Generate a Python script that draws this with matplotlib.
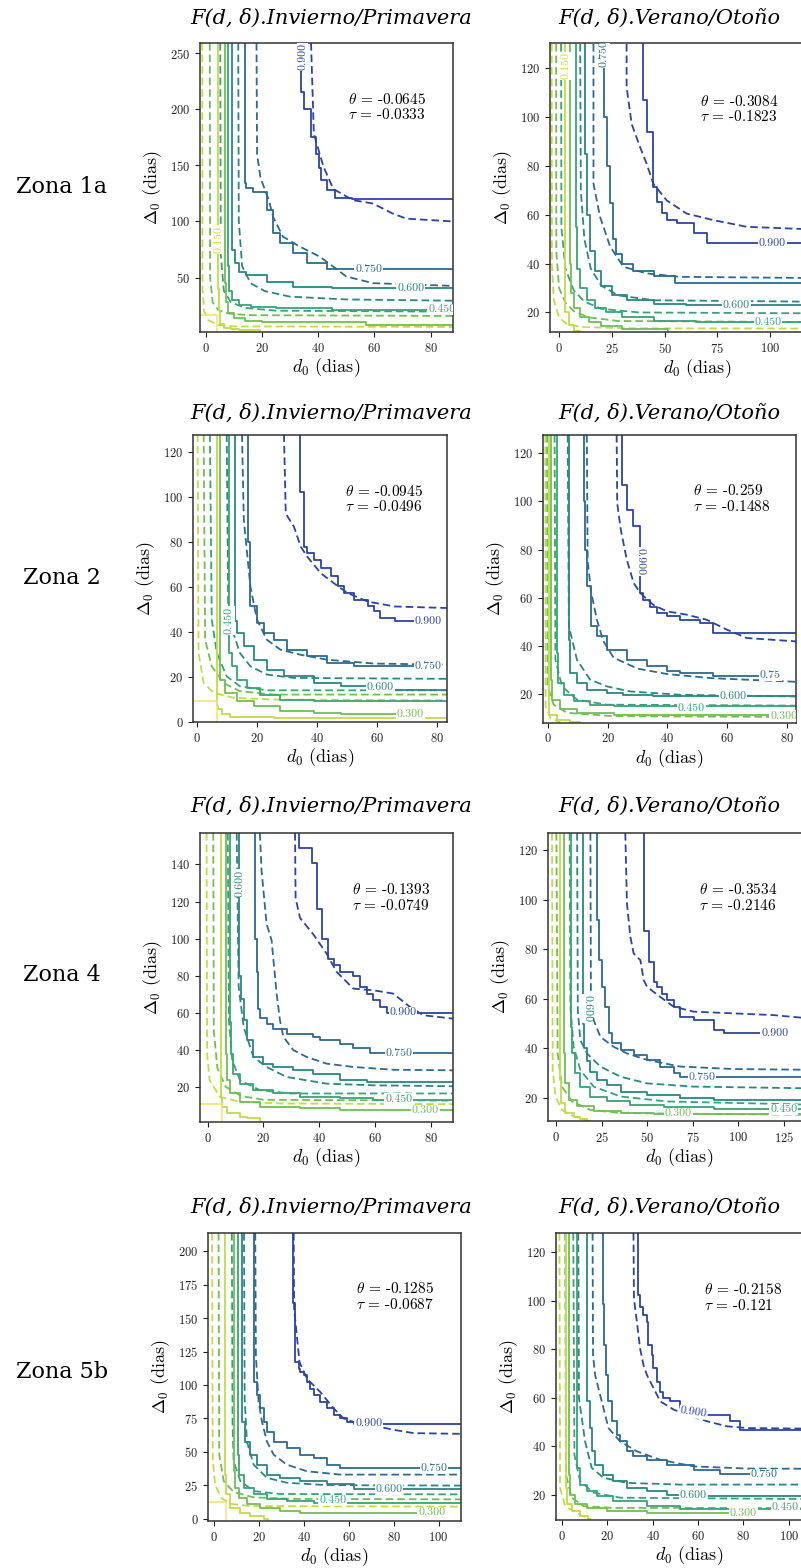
import matplotlib.pyplot as plt

plt.rcParams['font.family'] = 'serif'
plt.rcParams['font.serif'] = ['cmr10']
plt.rcParams['mathtext.fontset'] = 'cm'
plt.rcParams['axes.unicode_minus'] = False
plt.rcParams['axes.formatter.use_mathtext'] = True

# contour levels of F(d, delta) and their colours
levels = [0.15, 0.30, 0.45, 0.60, 0.75, 0.90]
level_colors = ['#c2dc46', '#6fbf52', '#37a476', '#2a8781', '#2c6a90', '#2b44a3']
box_color = '#f0e36c'

zonas = ['Zona 1a', 'Zona 2', 'Zona 4', 'Zona 5b']
seasons = ['F(d, δ).Invierno/Primavera', 'F(d, δ).Verano/Otoño']

theta = [[-0.0645, -0.3084], [-0.0945, -0.259], [-0.1393, -0.3534], [-0.1285, -0.2158]]
tau = [[-0.0333, -0.1823], [-0.0496, -0.1488], [-0.0749, -0.2146], [-0.0687, -0.121]]

# ---- Zona 1a, Invierno/Primavera (solid = empirical, dashed = copula)
z1a_ip_solid = [
    ([4.5, 4.6, 5.2, 6.5, 9, 12, 19.5, 19.5], [259, 40, 20, 9, 5, 4, 3, 1.5]),
    ([6.9, 7.2, 8, 10, 14, 20, 57, 88], [259, 45, 28, 18, 14, 11, 10.5, 7.5]),
    ([8.0, 8.3, 9.5, 12, 16, 25, 45, 88], [259, 60, 38, 30, 26, 24, 22.5, 21.5]),
    ([9.5, 10.3, 12, 14.5, 22, 31, 45, 88], [259, 75, 63, 55, 52, 46, 41.5, 40.5]),
    ([14, 14.5, 17, 22, 24, 26.3, 31, 36, 43, 46.6, 88], [259, 134, 130, 126, 110, 90, 80.6, 71.6, 62.7, 57.4, 57.4]),
    ([33.8, 35, 37.5, 39.3, 40.3, 41, 43, 46, 52, 88], [236, 215, 200, 175, 160, 148, 137, 128, 121, 120]),
]
z1a_ip_dashed = [
    ([-1.2, -1.1, -0.5, 1, 4, 10, 88], [259, 40, 20, 12, 8, 6.5, 6]),
    ([1.5, 1.6, 2.5, 4.5, 8, 15, 88], [259, 50, 28, 21, 18, 16.5, 15.8]),
    ([5.2, 5.4, 6.5, 9, 14, 25, 88], [259, 70, 38, 28, 23, 20.5, 19.6]),
    ([11.6, 11.8, 13, 16, 21, 30, 50, 88], [259, 100, 60, 45, 38, 33, 30.5, 29.4]),
    ([18.1, 18.3, 19.5, 22.5, 24, 27.5, 33.5, 40.6, 45.4, 50, 59.5, 88], [259, 160, 139, 119, 104, 86.5, 77.6, 68.6, 59.8, 51, 45, 42.6]),
    ([37.5, 38.5, 41.9, 45.4, 52.4, 59.5, 66.6, 71.4, 88], [259, 178, 149, 129, 119, 116, 107, 102.5, 100]),
]
z1a_ip_box = ([-2, 3.9, 3.9], [16.7, 16.7, 1.5])

# ---- Zona 1a, Verano/Otono
z1a_vo_solid = [
    ([2.9, 3.0, 4.5, 7, 10, 10], [130, 30, 20, 15, 12.5, 12]),
    ([5.3, 5.5, 7, 10, 14, 20, 30, 51.5, 51.5], [130, 40, 28, 22, 18, 16, 14.5, 13.4, 12]),
    ([8.1, 8.5, 10, 13, 17, 22, 30, 45, 65, 135], [130, 55, 38, 30, 25, 22, 20, 18, 16.5, 16.2]),
    ([12.4, 13, 14.5, 17, 20, 25, 32, 45, 60, 135], [130, 85, 60, 45, 37, 31, 27, 25, 23.5, 23]),
    ([21.3, 22.6, 24, 25.5, 27, 30, 35, 45, 55, 72, 135], [122, 100, 80, 65, 50, 44, 40, 37, 35, 32, 31.9]),
    ([39.9, 41.5, 44.7, 46.3, 48.7, 51, 55.8, 63.7, 69.9, 79.5, 135], [130.4, 107, 94, 71.4, 65.3, 60.6, 57.8, 56.5, 52.4, 48.5, 48.5]),
]
z1a_vo_dashed = [
    ([-3.5, -3.4, -2.5, 0, 4, 12, 35, 135], [130, 40, 25, 18, 15, 14, 13.5, 13.4]),
    ([-1.4, -1.3, 0, 3, 7, 14, 28, 135], [130, 45, 30, 24, 20.5, 18, 16.5, 16]),
    ([0.95, 1.1, 3, 7, 12, 20, 38, 135], [130, 55, 38, 29, 24.5, 21.5, 20, 19.6]),
    ([10, 10.3, 12, 15, 20, 28, 45, 135], [130, 70, 50, 38, 31, 27, 25, 24.3]),
    ([16.3, 16.3, 19.4, 24.2, 30.5, 41.5, 57.4, 135], [130, 72.8, 59.2, 47, 38.7, 36, 34.6, 34]),
    ([32, 32, 34.4, 38.4, 41.5, 44.7, 51, 60.5, 73.2, 89, 135], [130, 112.3, 97.2, 87.7, 80.9, 72.7, 65.9, 60.5, 57.8, 55.1, 53.5]),
]

# ---- Zona 2, Invierno/Primavera
z2_ip_solid = [
    ([6.7, 7, 8.2, 11, 25.5, 83.9], [128, 7.1, 5.6, 3.4, 2.2, 1.9]),
    ([7.6, 9.3, 13.2, 18.8, 27.7, 38.9, 47.9, 70.3], [128, 18.9, 13, 9.3, 7.1, 4.9, 4.1, 3.4]),
    ([10.5, 11.5, 13.2, 16.6, 21, 27.7, 38.9, 83.9], [128, 30.7, 24.8, 18.9, 15.2, 12.2, 10, 9.3]),
    ([12.4, 13.2, 15.5, 18.8, 23.2, 28.8, 38.9, 47.9, 59.1, 83.9], [128, 45, 39.6, 33.7, 27.7, 23.3, 20.3, 17.4, 15.9, 14.2]),
    ([16.9, 17.7, 19.9, 22.1, 25.5, 29.9, 36.7, 43.4, 52.4, 59.1, 75.9], [128, 80, 51.4, 44, 39.6, 36.6, 32.2, 29.2, 26.3, 24.8, 24.8]),
    ([34.3, 35.6, 36.7, 38.9, 41.2, 44.5, 46.8, 49, 52.4, 56.8, 59.1, 60.8, 65.8, 75.9], [128, 102.5, 78, 75, 72, 68.6, 64.9, 60.3, 57.4, 54.4, 51.4, 49.2, 46.3, 45]),
]
z2_ip_dashed = [
    ([0.1, 0.4, 2.1, 5.4, 12, 25.5, 83.9], [128, 30.7, 17.4, 13, 10.8, 10, 9.7]),
    ([2.1, 2.6, 4.8, 8.7, 14.2, 25.5, 83.9], [128, 36.6, 24.8, 17.4, 13.7, 12.2, 12.2]),
    ([4.2, 4.8, 6.5, 9.8, 14.2, 23.2, 83.9], [128, 45.5, 30.7, 20.3, 15.9, 14.1, 14.1]),
    ([9.8, 10.3, 12, 14.2, 17.7, 23.2, 32.2, 83.9], [128, 51, 39.6, 30.7, 24.8, 21.1, 19.6, 19.2]),
    ([14.9, 15.5, 17.7, 19.9, 23.2, 27.7, 34.5, 43.4, 59.1, 83.9], [128, 89.9, 60.3, 45.5, 36.6, 32.2, 29.9, 27.7, 26, 25.5]),
    ([28.9, 29.5, 30.1, 32.2, 34.5, 36.7, 41.2, 45.6, 50.1, 56.8, 65.8, 83.9], [128, 93, 91.4, 87, 78, 73.5, 66.2, 61.7, 57.4, 53.6, 51.4, 50.7]),
]
z2_ip_box = ([-1.45, 6.4, 6.4], [9.2, 9.2, 0])

# ---- Zona 2, Verano/Otono
z2_vo_solid = [
    ([0.2, 0.4, 3, 7.5, 10.8], [127.6, 16.2, 11.4, 9.3, 8.2]),
    ([1.1, 1.4, 4.1, 9.7, 22, 44.3, 83.1], [127.6, 25.9, 17.6, 13.5, 12.1, 11.4, 11.4]),
    ([3.0, 3.2, 5.2, 8.6, 14.1, 22, 33.1, 83.1], [127.6, 37, 24.5, 19.6, 16.9, 15.5, 14.8, 14.8]),
    ([6.9, 7.3, 9.7, 13, 19.7, 25.3, 35.3, 55.4, 83.1], [127.6, 42.5, 28.6, 24.5, 21.7, 20.3, 19.6, 19.2, 19.2]),
    ([11.9, 12.5, 13.2, 14.5, 16.4, 19.7, 26.4, 33.1, 39.8, 44.3, 55.4, 62.1, 73.3], [127.6, 100, 80, 65, 48.1, 44, 38.4, 34.2, 31.5, 29.4, 28.6, 27.6, 27.6]),
    ([24.7, 26.4, 28.5, 30.9, 32, 34.2, 36.5, 39.8, 44.3, 51, 55.4, 57.7, 83.1], [127.6, 106.8, 96.6, 89.7, 61.9, 59.2, 56.3, 53.6, 52.2, 50.8, 49.4, 45.3, 45.3]),
]
z2_vo_dashed = [
    ([-0.9, -0.8, 0.8, 4.1], [127.6, 14.8, 9.9, 8.2]),
    ([-0.3, -0.1, 1.9, 6.4, 22, 83.1], [127.6, 23.1, 15.5, 12.1, 10.7, 10.4]),
    ([2.2, 2.5, 4.7, 9.7, 19.7, 83.1], [127.6, 34.2, 23.1, 17.6, 15.5, 15.1]),
    ([6.6, 7, 9.7, 14.1, 19.7, 27.5, 44.3, 83.1], [127.6, 48.1, 34.2, 25.9, 23.1, 21, 19.6, 18.9]),
    ([13, 13.3, 14.5, 16.4, 18.5, 22, 30, 40, 55, 83.1], [127.6, 75, 62, 50.8, 42, 35, 30.5, 28.2, 26.5, 25]),
    ([23, 23.2, 24.4, 26.4, 28.7, 30.9, 35.3, 39.8, 46.5, 53.2, 59.9, 66.6, 83.1], [127.6, 99.2, 88.2, 75.8, 66.1, 61.9, 57, 54.3, 52.9, 50.8, 46.7, 43.2, 41.8]),
]

# ---- Zona 4, Invierno/Primavera
z4_ip_solid = [
    ([4.9, 5.3, 7.1, 11.6, 14, 18.7, 18.7], [157, 14, 9.2, 5.6, 3.8, 3.3, 1]),
    ([6.6, 6.8, 8, 11.6, 18.7, 33.1, 47.4, 68.9, 88], [157, 37.9, 23.5, 16.4, 11.9, 9.2, 8.3, 7.4, 7.4]),
    ([8.0, 8.3, 9.2, 11.6, 16.4, 23.5, 33.1, 47.4, 59.4, 88], [157, 55, 37.9, 27.1, 21.7, 18.2, 16.4, 14.6, 13.7, 13.1]),
    ([11.4, 12, 12.9, 14, 16.4, 19.9, 23.5, 30.7, 37.9, 47.4, 57, 88], [157, 80, 67.6, 55.9, 45.1, 36.1, 32.5, 30.7, 28.9, 27.1, 23.5, 22.6]),
    ([17, 17.6, 18.2, 18.7, 21.1, 23.5, 28.3, 37.9, 40.2, 47.4, 52.2, 58.2, 88], [157, 100, 82, 62, 57, 54, 51, 48.5, 46.9, 45, 43, 41, 38]),
    ([32.9, 37.4, 39.2, 41, 43.2, 45.1, 47.4, 52.2, 54.6, 57, 59.4, 61.7, 64.1, 88], [157, 149, 141, 116, 100, 89, 85.6, 82, 80, 74, 70, 66.7, 63, 60]),
]
z4_ip_dashed = [
    ([-0.4, -0.2, 0.7, 4.4, 11.6, 25.9, 88], [157, 37.9, 23.5, 14.6, 11.9, 11, 10.6]),
    ([2.0, 2.2, 3.5, 6.5, 12, 20, 88], [157, 50, 30, 20, 15, 13, 12.5]),
    ([7.2, 7.6, 8.8, 11.6, 18.7, 29.5, 88], [157, 55.9, 34.3, 23.5, 18.2, 16.4, 16.4]),
    ([10.4, 11.1, 12.9, 16.4, 21.1, 28.3, 42.6, 59.4, 88], [157, 73.9, 52.3, 36.1, 30.7, 25.3, 21.7, 20.8, 20.3]),
    ([18.7, 19.3, 21.1, 22.9, 24.7, 25.9, 27.1, 30.7, 35.5, 42.6, 52.2, 66.5, 88], [157, 136.9, 108, 99.1, 70.3, 55.9, 47, 39.8, 36.1, 32.5, 30.7, 29.2, 28.9]),
    ([31.3, 31.5, 33.1, 37.9, 42.6, 46.2, 52.2, 59.4, 66.5, 72.5, 77.3, 88], [157, 121.9, 111.1, 102.2, 91.9, 82, 73, 72.1, 70.3, 63.1, 58.6, 56.8]),
]
z4_ip_box = ([-2.75, 5.0, 5.0], [10.6, 10.6, 1])

# ---- Zona 4, Verano/Otono
z4_vo_solid = [
    ([2.2, 2.6, 4.9, 9.5, 13.2, 16.8, 18.7], [127, 27.2, 17.9, 13.8, 12.1, 11.4, 10.7]),
    ([4.4, 4.9, 6.8, 11.4, 20.5, 35.3, 53.5, 140], [127, 37.9, 25.8, 19.1, 16.5, 14.5, 13.8, 13.5]),
    ([8.2, 8.7, 10.5, 13.2, 18.7, 27.8, 40.7, 59, 86.5, 140], [127, 48.7, 37.9, 29.9, 24.5, 20.5, 18.5, 17.2, 16.2, 15.4]),
    ([14.6, 15, 16.8, 18.7, 22.4, 27.8, 35.3, 49.9, 68.1, 86.5, 140], [127, 50, 40, 35, 30.4, 27, 25, 22.5, 21, 20, 19.1]),
    ([22.4, 23.3, 25.2, 27, 28.9, 30.7, 35.3, 42.5, 49.9, 57.2, 64.5, 68.1, 140], [127, 91.7, 75.6, 64.8, 56.8, 46, 42, 39.3, 37.3, 35.3, 32.6, 29.9, 28.3]),
    ([48.4, 51.1, 53.5, 55.3, 58, 60.8, 64.5, 68.1, 75.5, 86.5, 92, 119.4], [127, 87.4, 74.7, 66.7, 64.8, 62.1, 59.5, 56.8, 52.7, 51.4, 47.3, 46]),
]
z4_vo_dashed = [
    ([-2.4, -2, -0.5, 3.1, 9.5, 16.8], [127, 31.2, 20.5, 15.1, 12.5, 10.7]),
    ([0, 0.7, 3.1, 8.6, 18.7, 35.3, 140], [127, 37.9, 24.5, 18.5, 15.1, 13.8, 13.1]),
    ([7.3, 7.7, 9.5, 13.2, 20.5, 35.3, 60.8, 140], [127, 56.8, 40.6, 31.2, 24.5, 20.5, 18.5, 17.2]),
    ([11.4, 11.8, 13.2, 16.8, 24.2, 35.3, 49.9, 75.5, 140], [127, 55, 43.3, 37.9, 32.6, 28.5, 25.8, 24.5, 23.8]),
    ([18.7, 19, 20.5, 24.2, 31.5, 38.8, 49.9, 68.1, 97.5, 140], [127, 60, 51.4, 44.6, 40.6, 37.9, 35.3, 32.6, 31.6, 31.3]),
    ([37.9, 38.8, 40.7, 42.5, 46.2, 48, 49.9, 57.2, 64.5, 75.5, 97.5, 119.4, 140], [127, 98.5, 85, 78.3, 75.6, 67.5, 64.8, 60.7, 56.8, 54.8, 54.1, 53.4, 52]),
]

# ---- Zona 5b, Invierno/Primavera
z5b_ip_solid = [
    ([5.2, 5.6, 7.4, 11.9, 16.3, 22.2, 24.4, 24.4], [213.7, 33, 18.2, 8.3, 4.6, 2.1, 0.1, -1.7]),
    ([9.2, 9.6, 11.1, 14.8, 20.7, 29.6, 38.5, 56.3, 96.3], [213.7, 35.5, 23.1, 15.7, 10.8, 8.3, 5.8, 4.6, 4.6]),
    ([10.7, 11.2, 13.4, 17.8, 23.7, 32.6, 44.5, 62.3, 110], [213.7, 47.9, 33, 23.1, 18.2, 14.5, 13.2, 12, 12]),
    ([12.6, 14, 16.3, 19.3, 23.7, 29.6, 38.5, 50.4, 62.3, 110], [213.7, 72.6, 57.7, 47.9, 40.4, 33, 30.6, 28.1, 25.6, 22]),
    ([17.8, 19.3, 20.7, 22.2, 23.7, 26.7, 32.6, 38.5, 44.5, 50.4, 56.3, 110], [213.7, 102.2, 92.3, 82.5, 72.6, 65.1, 57.7, 52.8, 47.9, 45.4, 40.4, 38]),
    ([35.2, 36.3, 37.8, 38.5, 40, 41.5, 43, 44.5, 47.4, 50.4, 53.4, 56.3, 59.3, 62.3, 110], [213.7, 161.7, 117, 112.2, 109.7, 107.2, 102.2, 97.3, 92.3, 87.4, 82.5, 77.5, 75, 72.6, 71]),
]
z5b_ip_dashed = [
    ([-0.7, -0.4, 0.7, 3.7, 8, 16, 110], [213.7, 45, 25, 15, 11, 9.5, 9]),
    ([2.2, 2.5, 4.5, 8.9, 17.8, 35.6, 110], [213.7, 47.9, 28.1, 20, 16, 14.8, 14.5]),
    ([8.1, 8.4, 8.9, 11.9, 17.8, 29.6, 110], [213.7, 72.6, 42.9, 28.1, 20.7, 18.5, 18.2]),
    ([13.5, 13.8, 14.8, 17.8, 23.7, 32.6, 50.4, 110], [213.7, 90, 57.7, 40.4, 30.6, 26.9, 25.1, 24.8]),
    ([18.5, 18.8, 20, 21.5, 23.7, 26.7, 32.6, 41.5, 56.3, 110], [213.7, 122, 87.4, 72.6, 57.7, 47.9, 40.4, 35.5, 33, 33]),
    ([35.6, 35.8, 37, 38.2, 41.5, 47.4, 53.4, 57.8, 63.8, 71.2, 80.1, 89, 110], [213.7, 156.7, 136.9, 117.1, 104.7, 94.8, 82.5, 75, 71.4, 69.6, 66.5, 64, 63.5]),
]
z5b_ip_box = ([-2.5, 5.6, 5.6], [12.6, 12.6, -1.7])

# ---- Zona 5b, Verano/Otono
z5b_vo_solid = [
    ([1.9, 2.2, 4.4, 8.1, 11.8, 12.6], [128, 23, 16.1, 13.3, 11.3, 10.2]),
    ([3.4, 3.7, 5.9, 11, 19.8, 37.5, 78.6], [128, 28.4, 20.2, 16.1, 14.7, 13.3, 12.6]),
    ([6.6, 6.9, 8.1, 11, 15.4, 22.8, 37.5, 52.2, 115], [128, 42.1, 31.2, 24.3, 21.6, 19.5, 17.5, 15.4, 14.3]),
    ([11, 11.3, 12.3, 13.3, 14.8, 18.4, 22.8, 28.6, 37.5, 46.3, 52.2, 115], [128, 77.7, 58.6, 47.6, 38, 32.5, 28.4, 25.7, 23, 21.6, 20.2, 19.5]),
    ([18.4, 18.6, 19.6, 20.6, 22.1, 24.3, 25.7, 28.6, 31.6, 37.5, 46.3, 58.1, 69.8, 87.5], [128, 98.9, 82, 69.5, 58.6, 50.4, 44.9, 42.1, 38, 35.9, 34.5, 32.5, 30.5, 28.6]),
    ([33.8, 34.5, 36, 37.5, 38.2, 39.7, 40.4, 41.9, 43.4, 44.8, 47.8, 52.2, 58.1, 74.2, 78.6, 115], [128, 102.4, 97.6, 94.2, 91.4, 81.8, 77.7, 72.2, 66.7, 62.6, 59.9, 58.6, 55.8, 53.1, 50.4, 47]),
]
z5b_vo_dashed = [
    ([-1, -0.7, 1.5, 6.6, 11], [128, 23, 15.4, 12.6, 10.6]),
    ([1.5, 1.9, 4.4, 9.6, 22.8, 115], [128, 28.4, 18.9, 15.4, 14.7, 14.7]),
    ([5.1, 5.6, 8.1, 13.9, 25.7, 115], [128, 36.6, 25.7, 21, 18.9, 18.3]),
    ([7.3, 7.6, 10.3, 13.2, 18.4, 28.6, 52.2, 115], [128, 60, 42.1, 31.2, 27.1, 25, 24.3, 24.3]),
    ([13.6, 13.8, 14.7, 16.9, 20.6, 25.7, 33.1, 43.4, 58.1, 81.6, 115], [128, 77.7, 69.5, 61.3, 47.6, 42.1, 38, 34.5, 31.8, 30.9, 30.8]),
    ([31.6, 31.8, 33.1, 34.5, 36, 37.5, 40.4, 43.4, 49.3, 55.2, 64, 72.8, 81.6, 115], [128, 100.9, 91.4, 80.4, 73.6, 69.5, 64.1, 58.6, 55.2, 53.1, 50.4, 48.3, 47.6, 47.3]),
]

# inline contour labels: (text, x, y, rotation, level index)
z1a_ip_labels = [('0.900', 34.6, 247, 90, 5), ('0.750', 58, 57.4, 0, 4), ('0.600', 73, 40.8, 0, 3),
                 ('0.450', 84, 21.6, 0, 2), ('0.150', 4.6, 84, 90, 0)]
z1a_vo_labels = [('0.900', 101, 48.5, 0, 5), ('0.750', 21.4, 126, 90, 4), ('0.600', 84, 23, 0, 3),
                 ('0.450', 99, 16.2, 0, 2), ('0.150', 3.0, 121, 90, 0)]
z2_ip_labels = [('0.900', 77, 45, 0, 5), ('0.750', 77, 24.8, 0, 4), ('0.600', 61, 15.6, 0, 3),
                ('0.450', 10.6, 45, 90, 2), ('0.300', 71, 3.4, 0, 1)]
z2_vo_labels = [('0.900', 30.9, 75, 270, 5), ('0.75', 74.5, 27.6, 0, 4), ('0.600', 62, 19.2, 0, 3),
                ('0.450', 48, 14.2, 0, 2), ('0.300', 79, 10.8, 0, 1)]
z4_ip_labels = [('0.900', 70, 60.2, 0, 5), ('0.750', 68.5, 38, 0, 4), ('0.450', 68.5, 13.4, 0, 2),
                ('0.300', 78, 7.4, 0, 1), ('0.600', 11.6, 130, 90, 3)]
z4_vo_labels = [('0.900', 120, 46, 0, 5), ('0.750', 80, 28.4, 0, 4), ('0.600', 16.8, 56, 270, 3),
                ('0.300', 67, 13.6, 0, 1), ('0.450', 125, 15.4, 0, 2)]
z5b_ip_labels = [('0.900', 69, 71.5, 0, 5), ('0.750', 98, 38, 0, 4), ('0.600', 78, 22, 0, 3),
                 ('0.450', 53, 13.5, 0, 2), ('0.300', 97, 4.6, 0, 1)]
z5b_vo_labels = [('0.900', 58, 54, -8, 5), ('0.750', 89, 28.6, 0, 4), ('0.600', 58, 20, 0, 3),
                 ('0.300', 80, 12.6, 0, 1), ('0.450', 98.5, 14.8, 0, 2)]

W, H = 801, 1568
fig = plt.figure(figsize=(W / 100, H / 100), dpi=100)


def px_rect(l, t, r, b):
    return [l / W, 1 - b / H, (r - l) / W, (b - t) / H]


def draw_panel(box_px, xlim, ylim, xticks, yticks, solid, dashed, box, labels, th, ta, txy):
    ax = fig.add_axes(px_rect(*box_px))
    for k, (xs, ys) in enumerate(dashed):
        ax.plot(xs, ys, linestyle=(0, (4.2, 2.2)), color=level_colors[k], lw=1.3)
    for k, (xs, ys) in enumerate(solid):
        ax.plot(xs, ys, color=level_colors[k], lw=1.3, drawstyle='steps-pre')
    if box is not None:
        ax.plot(box[0], box[1], color=box_color, lw=1.1)
    for txt, x, y, rot, k in labels:
        ax.text(x, y, txt, color=level_colors[k], fontsize=8.5, rotation=rot,
                ha='center', va='center', zorder=5, clip_on=True,
                bbox=dict(facecolor='white', edgecolor='none', pad=0.6))
    ax.text(txy[0], txy[1], r'$\theta$ = ' + str(th) + '\n' + r'$\tau$ = ' + str(ta),
            fontsize=11, ha='left', va='center', linespacing=1.05)
    ax.set_xlim(*xlim)
    ax.set_ylim(*ylim)
    ax.set_xticks(xticks)
    ax.set_yticks(yticks)
    ax.tick_params(labelsize=9, length=3.5, width=0.8, colors='#222222')
    for s in ax.spines.values():
        s.set_color('#333333')
        s.set_linewidth(1.1)
    ax.set_xlabel(r'$d_0$ (dias)', fontsize=13, labelpad=1)
    ax.set_ylabel(r'$\Delta_0$ (dias)', fontsize=13, labelpad=4)
    return ax


# row 1
draw_panel((200, 43, 453, 332), (-2, 88), (1.5, 259), [0, 20, 40, 60, 80], [50, 100, 150, 200, 250],
           z1a_ip_solid, z1a_ip_dashed, z1a_ip_box, z1a_ip_labels, theta[0][0], tau[0][0], (50.5, 202))
draw_panel((550, 43, 844, 332), (-4.3, 135), (12, 130.4), [0, 25, 50, 75, 100], [20, 40, 60, 80, 100, 120],
           z1a_vo_solid, z1a_vo_dashed, None, z1a_vo_labels, theta[0][1], tau[0][1], (66.8, 103.4))
# row 2
draw_panel((193, 435, 447, 722), (-1.45, 83.3), (0, 127.7), [0, 20, 40, 60, 80], [0, 20, 40, 60, 80, 100, 120],
           z2_ip_solid, z2_ip_dashed, z2_ip_box, z2_ip_labels, theta[1][0], tau[1][0], (49.2, 99.3))
draw_panel((543, 435, 796, 722.7), (-1.67, 83.1), (8, 127.6), [0, 20, 40, 60, 80], [20, 40, 60, 80, 100, 120],
           z2_vo_solid, z2_vo_dashed, None, z2_vo_labels, theta[1][1], tau[1][1], (48.7, 101.1))
# row 3
draw_panel((200, 833, 453, 1122), (-2.75, 87.9), (1, 157), [0, 20, 40, 60, 80], [20, 40, 60, 80, 100, 120, 140],
           z4_ip_solid, z4_ip_dashed, z4_ip_box, z4_ip_labels, theta[2][0], tau[2][0], (51.6, 122.2))
draw_panel((548, 833, 811, 1121), (-4.6, 140), (10.6, 127), [0, 25, 50, 75, 100, 125], [20, 40, 60, 80, 100, 120],
           z4_vo_solid, z4_vo_dashed, None, z4_vo_labels, theta[2][1], tau[2][1], (78.2, 101))
# row 4
draw_panel((208, 1233, 461, 1521), (-2.5, 110), (-1.7, 213.7), [0, 20, 40, 60, 80, 100],
           [0, 25, 50, 75, 100, 125, 150, 175, 200],
           z5b_ip_solid, z5b_ip_dashed, z5b_ip_box, z5b_ip_labels, theta[3][0], tau[3][0], (63.4, 166))
draw_panel((556, 1233, 823, 1520), (-2.5, 115), (9.7, 128), [0, 20, 40, 60, 80, 100], [20, 40, 60, 80, 100, 120],
           z5b_vo_solid, z5b_vo_dashed, None, z5b_vo_labels, theta[3][1], tau[3][1], (62.8, 101.3))

# column titles and row names
title_y = [18, 413, 806, 1207]
title_x = [331, 669]
zona_y = [187, 578, 975, 1372]
for r in range(4):
    for c in range(2):
        fig.text(title_x[c] / W, 1 - title_y[r] / H, seasons[c], family='DejaVu Serif', style='italic',
                 fontsize=15, ha='center', va='center')
    fig.text(62 / W, 1 - zona_y[r] / H, zonas[r], family='DejaVu Serif', fontsize=16,
             ha='center', va='center')

fig.savefig('out.png', dpi=100)
